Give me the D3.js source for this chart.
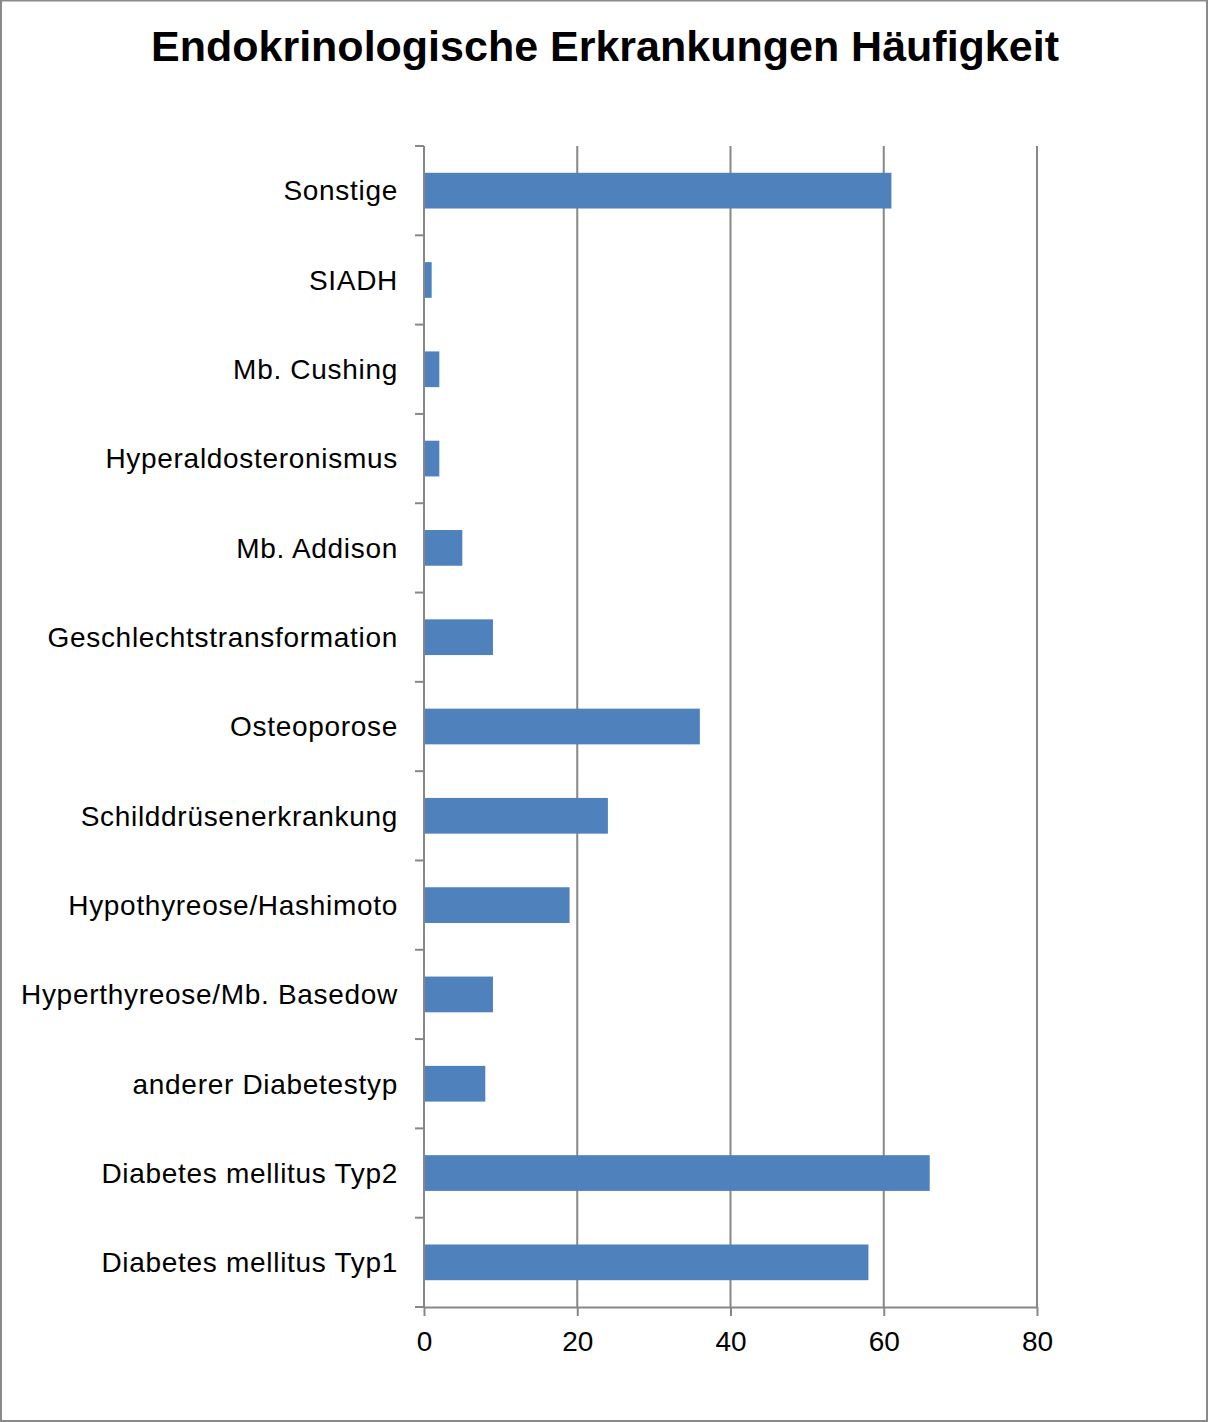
<!DOCTYPE html>
<html><head><meta charset="utf-8">
<script src="https://cdn.jsdelivr.net/npm/d3@7"></script>
<style>body{margin:0;background:#fff}svg{display:block}</style>
</head><body>
<svg id="c" width="1208" height="1422"></svg>
<script>
const categories = ["Sonstige","SIADH","Mb. Cushing","Hyperaldosteronismus","Mb. Addison","Geschlechtstransformation","Osteoporose","Schilddrüsenerkrankung","Hypothyreose/Hashimoto","Hyperthyreose/Mb. Basedow","anderer Diabetestyp","Diabetes mellitus Typ2","Diabetes mellitus Typ1"];
const values = [61,1,2,2,5,9,36,24,19,9,8,66,58];
const xTicks = [0,20,40,60,80];
const title = "Endokrinologische Erkrankungen Häufigkeit";

const svg = d3.select("#c");
const W=1208,H=1422;
const L=424,R=1037,T=146,B=1307;
const font="'Liberation Sans', Arial, sans-serif";
const grid="#878787";

svg.append("rect").attr("x",1).attr("y",0.5).attr("width",W-2).attr("height",H-1.5)
  .attr("fill","#fff").attr("stroke","#8a8a8a").attr("stroke-width",2);

svg.append("text").attr("x",605).attr("y",61).attr("text-anchor","middle")
  .attr("font-family",font).attr("font-weight","bold").attr("font-size",43).attr("fill","#000").text(title);

const x = d3.scaleLinear().domain([0,80]).range([L,R]);
const y = d3.scaleBand().domain(categories).range([T,B]).paddingInner(0.6).paddingOuter(0.3);

// gridlines
svg.append("g").selectAll("line").data(xTicks.filter(d=>d>0)).join("line")
  .attr("x1",d=>x(d)).attr("x2",d=>x(d)).attr("y1",T).attr("y2",B)
  .attr("stroke",grid).attr("stroke-width",2);

// bars
svg.append("g").selectAll("rect").data(values).join("rect")
  .attr("x",x(0)).attr("y",(d,i)=>y(categories[i]))
  .attr("width",d=>x(d)-x(0)).attr("height",y.bandwidth())
  .attr("fill","#4f81bd");

// x axis
const xa = svg.append("g").attr("transform",`translate(0,${B})`)
  .call(d3.axisBottom(x).tickValues(xTicks).tickSize(9).tickPadding(15).tickSizeOuter(0));
xa.select(".domain").attr("stroke",grid).attr("stroke-width",2);
xa.selectAll(".tick line").attr("stroke",grid).attr("stroke-width",2);
xa.selectAll(".tick text").attr("font-family",font).attr("font-size",28).attr("fill","#000");

// y axis: category boundaries as ticks
const step = (B-T)/categories.length;
const ya = svg.append("g");
ya.append("line").attr("x1",L).attr("x2",L).attr("y1",T).attr("y2",B).attr("stroke",grid).attr("stroke-width",2);
ya.selectAll("line.t").data(d3.range(categories.length+1)).join("line").attr("class","t")
  .attr("x1",L-9).attr("x2",L).attr("y1",i=>T+i*step).attr("y2",i=>T+i*step)
  .attr("stroke",grid).attr("stroke-width",2);
ya.selectAll("text").data(categories).join("text")
  .attr("x",L-26).attr("y",d=>y(d)+y.bandwidth()/2).attr("dy","0.35em")
  .attr("text-anchor","end").attr("font-family",font).attr("font-size",28)
  .attr("letter-spacing",0.7).attr("fill","#000").text(d=>d);
</script>
</body></html>
